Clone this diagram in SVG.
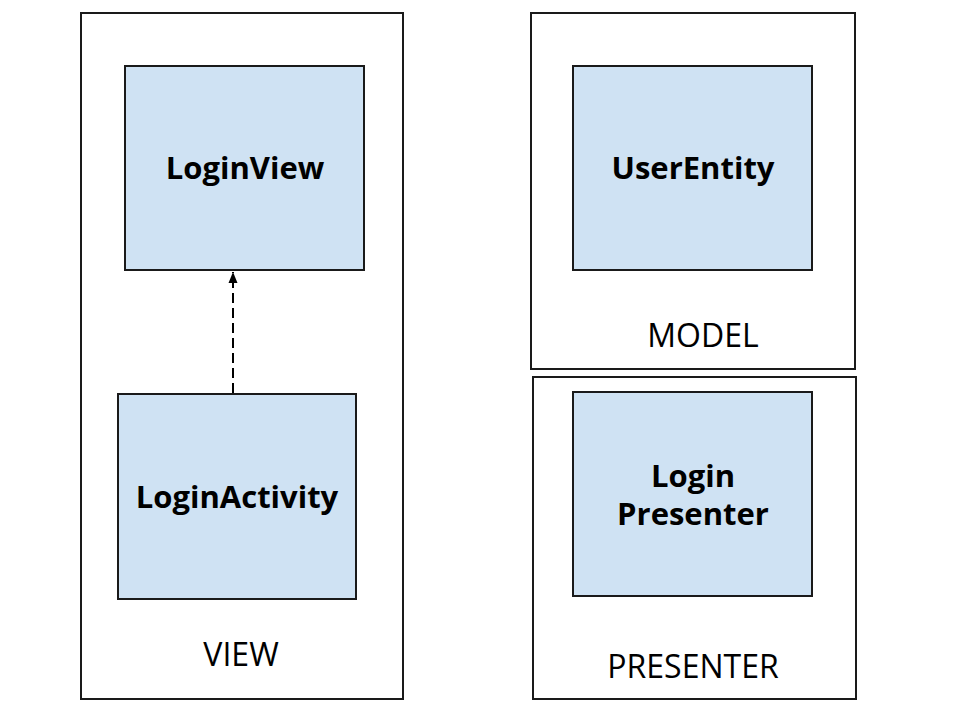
<svg xmlns="http://www.w3.org/2000/svg" width="960" height="720" viewBox="0 0 960 720">
<style>
.outer{fill:#fff;stroke:#1a1a1a;stroke-width:2}
.node{fill:#cfe2f3;stroke:#1a1a1a;stroke-width:2}
.bold{font-family:"Open Sans","DejaVu Sans",sans-serif;font-weight:bold;font-size:31px;fill:#000;text-anchor:middle}
.lbl{font-family:"Open Sans","DejaVu Sans",sans-serif;font-size:32px;fill:#000;text-anchor:middle}
.conn{stroke:#000;stroke-width:2;stroke-dasharray:10,5;fill:none}
</style>
<defs>
<marker id="ah" markerWidth="12" markerHeight="12" refX="11" refY="5.5" orient="auto" markerUnits="userSpaceOnUse">
<path d="M0,1 L11,5.5 L0,10 Z" fill="#000"/>
</marker>
</defs>
<g id="view">
<rect class="outer" x="81" y="13" width="322" height="686"/>
<text class="lbl" x="241" y="666">VIEW</text>
</g>
<g id="model">
<rect class="outer" x="531" y="13" width="324" height="356"/>
<text class="lbl" x="703" y="347">MODEL</text>
</g>
<g id="presenter">
<rect class="outer" x="533" y="377" width="323" height="322"/>
<text class="lbl" x="693" y="678">PRESENTER</text>
</g>
<g id="loginview">
<rect class="node" x="125" y="66" width="239" height="204"/>
<text class="bold" x="245" y="179">LoginView</text>
</g>
<g id="loginactivity">
<rect class="node" x="118" y="394" width="238" height="205"/>
<text class="bold" x="237" y="508">LoginActivity</text>
</g>
<g id="userentity">
<rect class="node" x="573" y="66" width="239" height="204"/>
<text class="bold" x="693" y="179">UserEntity</text>
</g>
<g id="loginpresenter">
<rect class="node" x="573" y="392" width="239" height="204"/>
<text class="bold" x="693" y="487">Login</text>
<text class="bold" x="693" y="525">Presenter</text>
</g>
<g id="connectors">
<line class="conn" x1="233" y1="393" x2="233" y2="272" marker-end="url(#ah)"/>
</g>
</svg>
